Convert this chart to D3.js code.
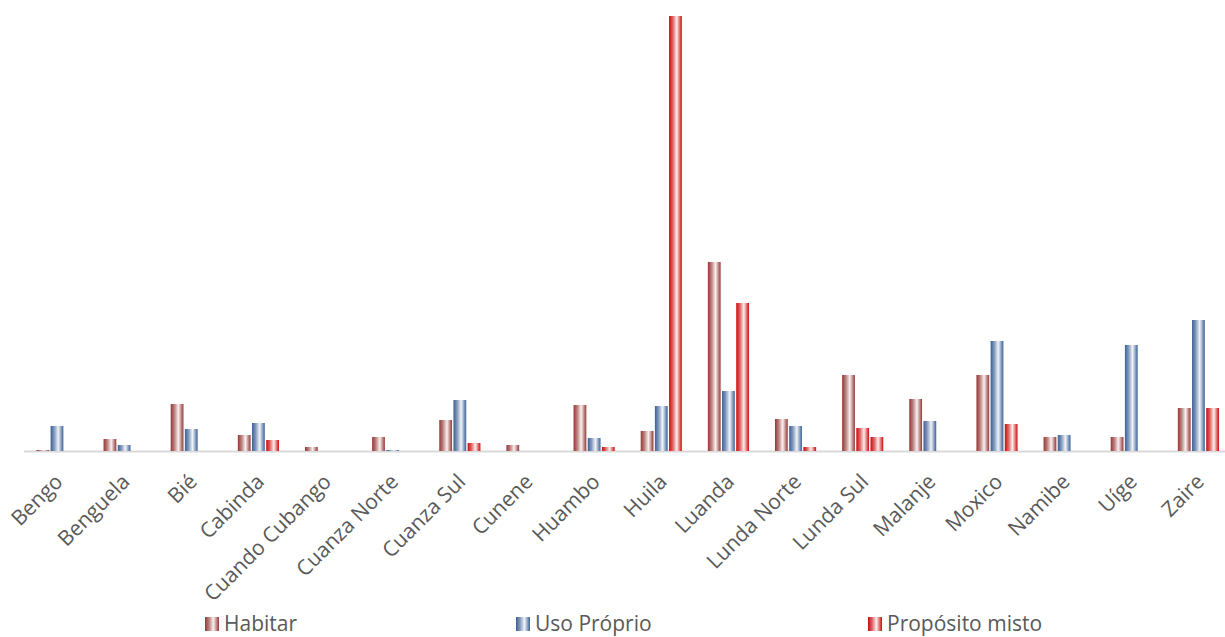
<!DOCTYPE html>
<html>
<head>
<meta charset="utf-8">
<script src="https://cdn.jsdelivr.net/npm/d3@7"></script>
<style>
  html, body { margin: 0; padding: 0; background: #fff; }
  svg { display: block; font-family: "Open Sans", "Noto Sans", sans-serif; }
</style>
</head>
<body>
<svg id="chart" width="1225" height="637"></svg>
<script>
// Provinces (x categories)
const provinces = ["Bengo", "Benguela", "Bié", "Cabinda", "Cuando Cubango", "Cuanza Norte",
  "Cuanza Sul", "Cunene", "Huambo", "Huila", "Luanda", "Lunda Norte", "Lunda Sul",
  "Malanje", "Moxico", "Namibe", "Uíge", "Zaire"];

// Series names
const seriesNames = ["Habitar", "Uso Próprio", "Propósito misto"];

// Series values, one per province
const habitar      = [1, 12, 47, 16, 4, 14, 31, 6, 46, 20, 189, 32, 76, 52, 76, 14, 14, 43];
const usoProprio   = [25, 6, 22, 28, 0, 1, 51, 0, 13, 45, 60, 25, 23, 30, 110, 16, 106, 131];
const propositoMisto = [0, 0, 0, 11, 0, 0, 8, 0, 4, 435, 148, 4, 14, 0, 27, 0, 0, 43];

const seriesValues = [habitar, usoProprio, propositoMisto];

// Edge colour of each series' shaded fill
const seriesColors = ["#953735", "#3b6096", "#cc0a0a"];

// Individual points drawn with another series' fill: [province, series, colour index]
const pointColorOverrides = [["Lunda Sul", 1, 2]];

const FONT = '"Open Sans", "Noto Sans", sans-serif';
const svg = d3.select("#chart");

// Horizontal cylinder-like shading for each series
const defs = svg.append("defs");
seriesColors.forEach((c, i) => {
  const g = defs.append("linearGradient")
    .attr("id", "grad" + i)
    .attr("x1", "0%").attr("x2", "100%").attr("y1", "0%").attr("y2", "0%");
  const mix = t => d3.interpolateRgb(c, "#ffffff")(t);
  g.append("stop").attr("offset", "0%").attr("stop-color", c);
  g.append("stop").attr("offset", "28%").attr("stop-color", mix(0.35));
  g.append("stop").attr("offset", "60%").attr("stop-color", mix(0.93));
  g.append("stop").attr("offset", "85%").attr("stop-color", mix(0.35));
  g.append("stop").attr("offset", "100%").attr("stop-color", c);
});

const x = d3.scaleBand()
  .domain(provinces)
  .range([23.4, 1232])
  .paddingInner(0.345)
  .paddingOuter(0.1725);

const xs = d3.scaleBand()
  .domain(d3.range(seriesNames.length))
  .range([0, x.bandwidth()])
  .padding(0.1);

const y = d3.scaleLinear()
  .domain([0, d3.max(propositoMisto)])
  .range([451, 16]);

// Category axis with rotated labels
const axis = svg.append("g")
  .attr("transform", `translate(0,${y(0)})`)
  .call(d3.axisBottom(x).tickSize(0).tickSizeOuter(0))
  .attr("font-family", FONT)
  .attr("font-size", 21);

axis.select(".domain")
  .attr("stroke", "#d9d9d9")
  .attr("stroke-width", 2);

axis.selectAll(".tick text")
  .attr("x", 0).attr("y", 0).attr("dy", 0)
  .attr("transform", "translate(7,32) rotate(-45)")
  .attr("text-anchor", "end")
  .attr("fill", "#595959");

// Bars
const overrideMap = new Map(pointColorOverrides.map(o => [o[0] + "|" + o[1], o[2]]));

const groups = svg.append("g")
  .selectAll("g")
  .data(provinces)
  .join("g")
  .attr("transform", d => `translate(${x(d)},0)`);

groups.selectAll("rect")
  .data((p, pi) => seriesValues.map((vals, si) => ({ p, si, v: vals[pi] })))
  .join("rect")
  .filter(d => d.v > 0)
  .attr("x", d => xs(d.si))
  .attr("width", xs.bandwidth())
  .attr("y", d => y(d.v))
  .attr("height", d => y(0) - y(d.v))
  .attr("fill", d => {
    const k = d.p + "|" + d.si;
    const ci = overrideMap.has(k) ? overrideMap.get(k) : d.si;
    return `url(#grad${ci})`;
  });

// Legend
const legendX = [205, 516, 868];
const legend = svg.append("g")
  .selectAll("g")
  .data(seriesNames)
  .join("g")
  .attr("transform", (d, i) => `translate(${legendX[i]},617)`);

legend.append("rect")
  .attr("width", 14).attr("height", 14)
  .attr("fill", (d, i) => `url(#grad${i})`);

legend.append("text")
  .attr("x", 19).attr("y", 14)
  .attr("fill", "#595959")
  .style("font-family", FONT)
  .style("font-size", "21px")
  .text(d => d);
</script>
</body>
</html>
